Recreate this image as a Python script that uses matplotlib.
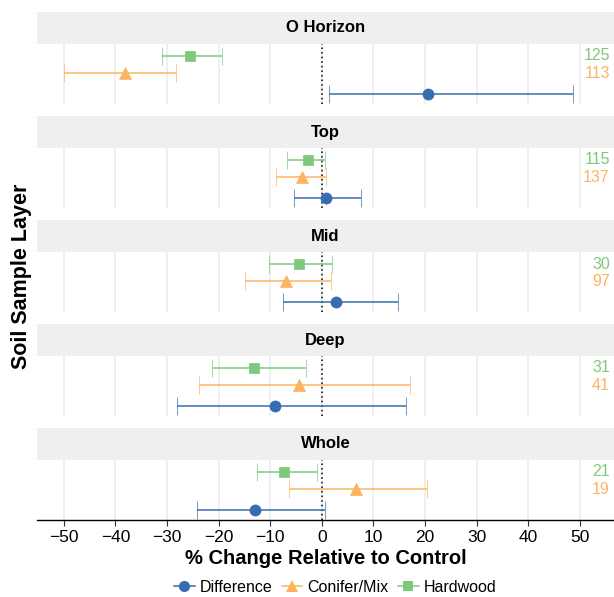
import matplotlib
matplotlib.use("Agg")
import matplotlib.pyplot as plt
from matplotlib.lines import Line2D

plt.rcParams['font.family'] = ['Liberation Sans', 'DejaVu Sans']

layers = ["O Horizon", "Top", "Mid", "Deep", "Whole"]
series = ["Difference", "Conifer/Mix", "Hardwood"]
colors = {"Difference": "#386cb0", "Conifer/Mix": "#fdb462", "Hardwood": "#7fc97f"}
markers = {"Difference": "o", "Conifer/Mix": "^", "Hardwood": "s"}
msizes = {"Difference": 8, "Conifer/Mix": 9, "Hardwood": 7.5}
rowpos = {"Difference": 0, "Conifer/Mix": 21, "Hardwood": 38}

# estimate, lower, upper per layer
diff_est = [20.5, 0.8, 2.7, -9.1, -13.0]
diff_lo = [1.4, -5.4, -7.6, -28.1, -24.2]
diff_hi = [48.6, 7.6, 14.7, 16.3, 0.6]
con_est = [-38.2, -3.9, -7.0, -4.5, 6.6]
con_lo = [-50.0, -8.9, -14.9, -23.8, -6.4]
con_hi = [-28.3, 0.8, 1.7, 17.1, 20.3]
hard_est = [-25.6, -2.7, -4.5, -13.2, -7.4]
hard_lo = [-31.0, -6.8, -10.3, -21.3, -12.6]
hard_hi = [-19.4, 0.6, 1.9, -3.1, -1.0]
n_hard = [125, 115, 30, 31, 21]
n_con = [113, 137, 97, 41, 19]

data = {
    "Difference": (diff_est, diff_lo, diff_hi),
    "Conifer/Mix": (con_est, con_lo, con_hi),
    "Hardwood": (hard_est, hard_lo, hard_hi),
}

W, H = 614, 597
fig = plt.figure(figsize=(W / 100, H / 100), dpi=100)

left, right = 37, 614
top0 = 12
strip_h, panel_h, gap = 32, 60, 12
xlim = (-55.2, 56.6)

for i, layer in enumerate(layers):
    y_strip = top0 + i * (strip_h + panel_h + gap)
    y_panel = y_strip + strip_h
    sax = fig.add_axes([left / W, 1 - (y_strip + strip_h) / H, (right - left) / W, strip_h / H])
    sax.set_facecolor("#efefef")
    sax.set_xticks([])
    sax.set_yticks([])
    for sp in sax.spines.values():
        sp.set_visible(False)
    sax.text(0.5, 0.5, layer, ha="center", va="center", fontsize=12, fontweight="bold",
             transform=sax.transAxes)

    ax = fig.add_axes([left / W, 1 - (y_panel + panel_h) / H, (right - left) / W, panel_h / H])
    ax.set_xlim(*xlim)
    ax.set_ylim(-10, 50)
    ax.set_xticks(range(-50, 51, 10))
    ax.grid(axis="x", color="#ebebeb", lw=1.1)
    ax.set_axisbelow(True)
    ax.set_yticks([])
    for sp in ["top", "left", "right"]:
        ax.spines[sp].set_visible(False)
    ax.axvline(0, color="black", ls=(0, (1, 2)), lw=1.1, zorder=1)

    for s in series:
        est, lo, hi = data[s]
        y = rowpos[s]
        ax.errorbar(est[i], y, xerr=[[est[i] - lo[i]], [hi[i] - est[i]]], fmt=markers[s],
                    color=colors[s], ms=msizes[s], elinewidth=1.1, capsize=6.5, capthick=1.1,
                    mec=colors[s], mew=0.5, zorder=3)

    ax.text(55.8, rowpos["Hardwood"], str(n_hard[i]), color=colors["Hardwood"],
            ha="right", va="center", fontsize=11.5)
    ax.text(55.8, rowpos["Conifer/Mix"], str(n_con[i]), color=colors["Conifer/Mix"],
            ha="right", va="center", fontsize=11.5)

    if i < len(layers) - 1:
        ax.spines["bottom"].set_visible(False)
        ax.tick_params(axis="x", length=0, labelbottom=False)
    else:
        ax.spines["bottom"].set_color("black")
        ax.spines["bottom"].set_linewidth(1)
        ax.tick_params(axis="x", length=4, width=0.8, labelsize=12.5, pad=3, color="#333333")
        ax.set_xticklabels([f"\u2212{abs(v)}" if v < 0 else str(v) for v in range(-50, 51, 10)])
        ax.set_xlabel("% Change Relative to Control", fontsize=14.5, fontweight="bold", labelpad=3)

fig.text(22 / W, 1 - 276 / H, "Soil Sample Layer", rotation=90, ha="center", va="center",
         fontsize=15.5, fontweight="bold")

handles = [Line2D([0], [0], color=colors[s], marker=markers[s], ms=msizes[s], mew=0, lw=1.1)
           for s in series]
fig.legend(handles, series, loc="center", bbox_to_anchor=(335 / W, 1 - 587 / H), ncol=3,
           frameon=False, fontsize=11.5, handlelength=1.3, handletextpad=0.3, columnspacing=0.6)

fig.savefig("out.png", dpi=100)
